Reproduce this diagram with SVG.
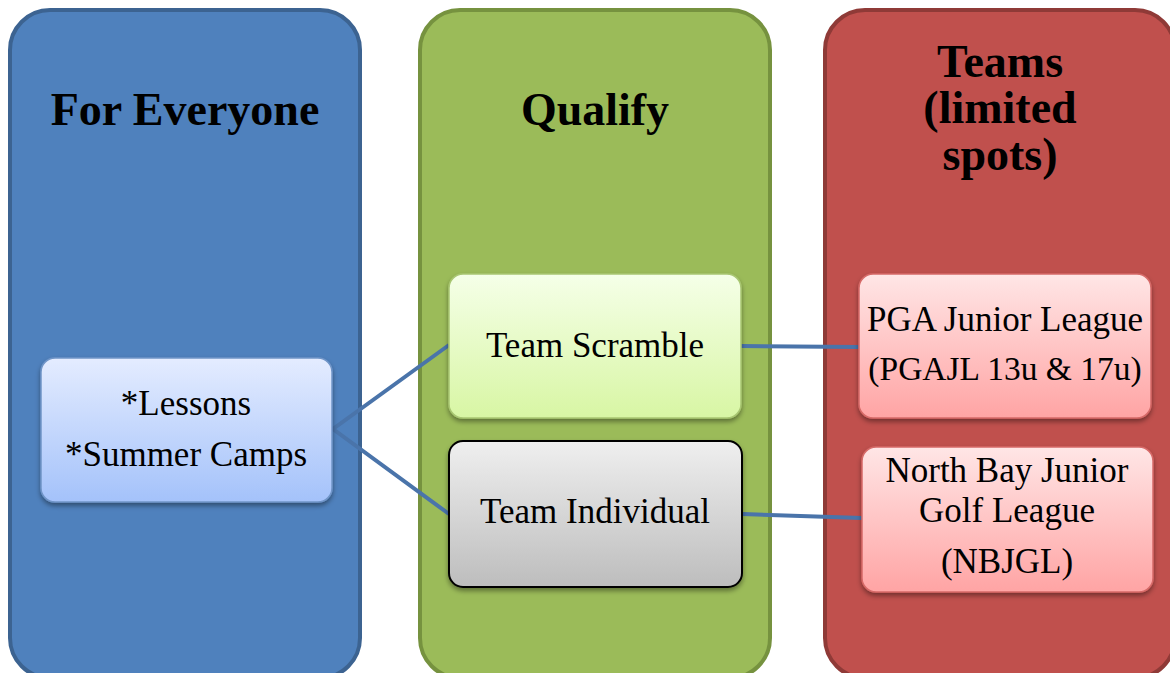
<svg xmlns="http://www.w3.org/2000/svg" width="1170" height="673" viewBox="0 0 1170 673">
<defs>
<linearGradient id="gBlue" x1="0" y1="0" x2="0" y2="1"><stop offset="0" stop-color="#e4ecff"/><stop offset="1" stop-color="#a4c2fa"/></linearGradient>
<linearGradient id="gGreen" x1="0" y1="0" x2="0" y2="1"><stop offset="0" stop-color="#f5ffe8"/><stop offset="1" stop-color="#d8f6a4"/></linearGradient>
<linearGradient id="gGray" x1="0" y1="0" x2="0" y2="1"><stop offset="0" stop-color="#efefef"/><stop offset="1" stop-color="#bdbdbd"/></linearGradient>
<linearGradient id="gRed" x1="0" y1="0" x2="0" y2="1"><stop offset="0" stop-color="#ffe6e6"/><stop offset="1" stop-color="#ffa4a4"/></linearGradient>
<filter id="sh" x="-10%" y="-10%" width="120%" height="130%"><feDropShadow dx="0" dy="3" stdDeviation="2.5" flood-color="#000" flood-opacity="0.4"/></filter>
</defs>
<style>
.col{stroke-width:4}
.hd{font-family:"Liberation Serif","Times New Roman",serif;font-weight:bold;font-size:46px;fill:#000;text-anchor:middle}
.tx{font-family:"Liberation Serif","Times New Roman",serif;font-size:35px;fill:#000;text-anchor:middle}
.sm{font-size:33.5px}
.box{filter:url(#sh)}
.conn{stroke:#4a74aa;stroke-width:4;fill:none}
</style>
<rect width="1170" height="673" fill="#fff"/>
<g id="col-everyone">
<rect class="col" x="10" y="10" width="350" height="668" rx="40" fill="#4f81bd" stroke="#3c6391"/>
<text class="hd" x="185" y="125">For Everyone</text>
</g>
<g id="col-qualify">
<rect class="col" x="420" y="10" width="350" height="668" rx="40" fill="#9bbb59" stroke="#76923f"/>
<text class="hd" x="595" y="125">Qualify</text>
</g>
<g id="col-teams">
<rect class="col" x="825" y="10" width="350" height="668" rx="40" fill="#c0504d" stroke="#8f3a37"/>
<text class="hd" x="1000" y="77">Teams</text>
<text class="hd" x="1000" y="123">(limited</text>
<text class="hd" x="1000" y="170">spots)</text>
</g>
<g id="connectors">
<polyline class="conn" points="449,345 333,429 449,514"/>
<line class="conn" x1="741" y1="346" x2="859" y2="347"/>
<line class="conn" x1="742" y1="514" x2="862" y2="518"/>
</g>
<g id="node-lessons">
<rect class="box" x="41" y="358" width="291" height="144" rx="14" fill="url(#gBlue)" stroke="#7095c8" stroke-width="1.5"/>
<text class="tx" x="186" y="415">*Lessons</text>
<text class="tx" x="186" y="466">*Summer Camps</text>
</g>
<g id="node-scramble">
<rect class="box" x="449" y="274" width="292" height="144" rx="14" fill="url(#gGreen)" stroke="#a8c672" stroke-width="1.5"/>
<text class="tx" x="595" y="357">Team Scramble</text>
</g>
<g id="node-individual">
<rect class="box" x="449" y="441" width="293" height="146" rx="14" fill="url(#gGray)" stroke="#000" stroke-width="2"/>
<text class="tx" x="595" y="523">Team Individual</text>
</g>
<g id="node-pgajl">
<rect class="box" x="859" y="274" width="292" height="144" rx="14" fill="url(#gRed)" stroke="#d66a68" stroke-width="1.5"/>
<text class="tx" x="1005" y="331">PGA Junior League</text>
<text class="tx sm" x="1005" y="380">(PGAJL 13u &amp; 17u)</text>
</g>
<g id="node-nbjgl">
<rect class="box" x="862" y="447" width="291" height="145" rx="14" fill="url(#gRed)" stroke="#d66a68" stroke-width="1.5"/>
<text class="tx" x="1007" y="482">North Bay Junior</text>
<text class="tx" x="1007" y="522">Golf League</text>
<text class="tx" x="1007" y="573">(NBJGL)</text>
</g>
</svg>
